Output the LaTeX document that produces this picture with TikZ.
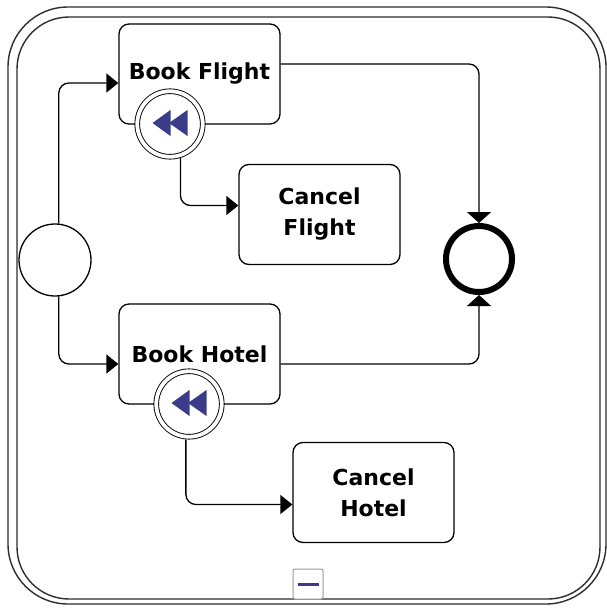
\documentclass[tikz,border=0pt]{standalone}
\usepackage{fontspec}
\setmainfont{DejaVu Sans}
\usetikzlibrary{arrows.meta}
\definecolor{rewindblue}{RGB}{58,60,138}
\definecolor{markergray}{RGB}{150,150,185}
\definecolor{framegray}{RGB}{45,45,45}

\begin{document}
\begin{tikzpicture}[x=1pt,y=-1pt,
		task/.style={draw,line width=1.3pt,rounded corners=10pt,fill=white,minimum width=161pt,minimum height=100pt,inner sep=0pt,align=center,font=\fontsize{22}{31}\selectfont\bfseries},
		comp/.style={circle,draw,fill=white,line width=0.9pt,double,double distance=3.8pt,minimum size=65.5pt,outer sep=3pt},
		flow/.style={line width=1.3pt,rounded corners=10pt,-{Triangle[length=12pt,width=19pt]}},
		endflow/.style={flow,-{Triangle[length=11pt,width=24pt]}}]
		\useasboundingbox (0,0) rectangle (607,608);
		\draw[line width=1.4pt,color=framegray,rounded corners=60pt] (8,7) rectangle (606,604);
		\draw[line width=1.4pt,color=framegray,rounded corners=52pt] (17,17) rectangle (600,599);
		\node[draw=markergray,fill=white,line width=1pt,rounded corners=2pt,minimum size=30pt,inner sep=0pt] (collapse) at (308,584) {\textcolor{rewindblue}{\rule{21pt}{3pt}}};
		\node[circle,draw,line width=1.3pt,minimum size=72pt] (start) at (55,260) {};
		\node[task] (bf) at (199.5,74) {Book Flight};
		\node[task] (bh) at (199.5,354) {Book Hotel};
		\node[task] (cfl) at (319.5,214.5) {Cancel\\Flight};
		\node[task] (chl) at (373.5,492.5) {Cancel\\Hotel};
		\node[comp] (cf) at (170,124) {};
		\node[comp] (ch) at (189,404) {};
		\node[circle,draw,line width=6pt,minimum size=66pt] (end) at (479,259) {};
		\foreach \c in {cf,ch} {
			\fill[rewindblue] ([xshift=-17.5pt,yshift=1pt]\c.center) -- ++(18,-13) -- ++(0,26) -- cycle;
			\fill[rewindblue] ([xshift=-1pt,yshift=1pt]\c.center) -- ++(18.5,-13) -- ++(0,26) -- cycle;
		}
		\draw[flow] (start.84) |- ([yshift=-9pt]bf.west);
		\draw[flow] (start.-84) |- ([yshift=-10pt]bh.west);
		\draw[flow] (cf.-73) |- ([yshift=9pt]cfl.west);
		\draw[flow] (ch.-95) |- ([yshift=-12pt]chl.west);
		\draw[endflow] ([yshift=10pt]bf.east) -| (end.north);
		\draw[endflow] ([yshift=-10pt]bh.east) -| (end.south);
	\end{tikzpicture}
\end{document}
